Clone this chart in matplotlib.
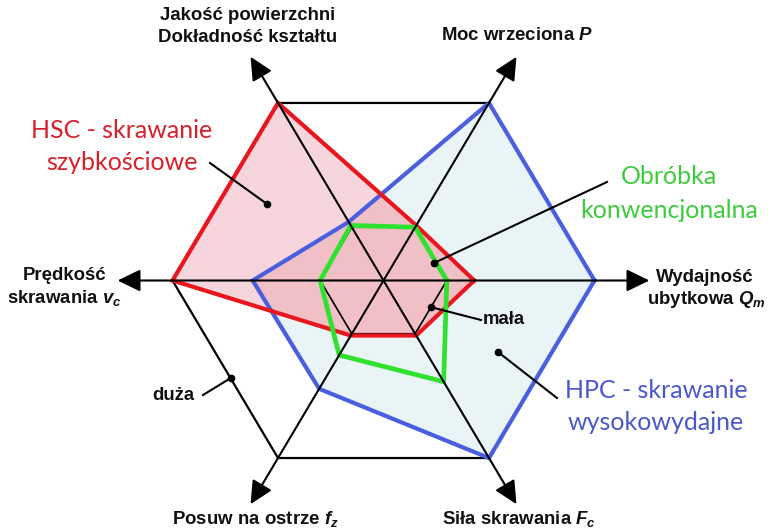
import numpy as np
import matplotlib
matplotlib.use("Agg")
import matplotlib.pyplot as plt
from matplotlib.patches import Polygon

plt.rcParams['mathtext.fontset'] = 'custom'
plt.rcParams['mathtext.it'] = 'Liberation Sans:italic:bold'
plt.rcParams['mathtext.rm'] = 'Liberation Sans:bold'
plt.rcParams['mathtext.bf'] = 'Liberation Sans:bold'

# ---------------- data ----------------
axis_angles_deg = [0, 60, 120, 180, 240, 300]
axis_names = ["Wydajność ubytkowa Qm", "Moc wrzeciona P",
              "Jakość powierzchni / Dokładność kształtu",
              "Prędkość skrawania vc", "Posuw na ostrze fz", "Siła skrawania Fc"]
hsc_values = [0.43, 0.31, 1.00, 1.00, 0.31, 0.31]    # HSC - skrawanie szybkościowe
hpc_values = [1.00, 1.00, 0.33, 0.62, 0.61, 1.00]    # HPC - skrawanie wysokowydajne
conv_values = [0.30, 0.30, 0.31, 0.30, 0.42, 0.57]   # Obróbka konwencjonalna
scale_levels = [0.30, 1.00]                          # mała, duża
scale_names = ["mała", "duża"]
arrow_length = 1.26

# ---------------- geometry ----------------
W, H = 768, 532
cx, cy = 383.5, 280.5      # centre in pixels
sx, sy = 211.0, 205.0      # pixels per unit

def px(x, y):
    return ((x - cx) / sx, (cy - y) / sy)

ang = np.deg2rad(axis_angles_deg)

def poly(vals):
    v = np.asarray(vals, dtype=float)
    x = v * np.cos(ang)
    y = v * np.sin(ang)
    return np.append(x, x[0]), np.append(y, y[0])

fig = plt.figure(figsize=(W / 100, H / 100), dpi=100)
ax = fig.add_axes([0, 0, 1, 1])
ax.set_xlim(-cx / sx, (W - cx) / sx)
ax.set_ylim(-(H - cy) / sy, cy / sy)
ax.axis('off')

RED = '#e8161e'
BLUE = '#4a5ee0'
GREEN = '#2fe22f'

# fills
bx, by = poly(hpc_values)
rx, ry = poly(hsc_values)
blue_patch = Polygon(np.column_stack([bx, by]), closed=True, facecolor='#e9f4f7',
                     edgecolor='none', zorder=1)
ax.add_patch(blue_patch)
ax.add_patch(Polygon(np.column_stack([rx, ry]), closed=True, facecolor='#f7d5dd',
                     edgecolor='none', zorder=2))
overlap = Polygon(np.column_stack([rx, ry]), closed=True, facecolor='#f0c0c6',
                  edgecolor='none', zorder=2.5)
ax.add_patch(overlap)
overlap.set_clip_path(blue_patch)

# scale hexagons
for lvl, lw in zip(scale_levels, [1.2, 1.6]):
    hx, hy = poly([lvl] * 6)
    ax.plot(hx, hy, color='black', lw=lw, zorder=3)

# series outlines
ax.plot(bx, by, color=BLUE, lw=3.0, zorder=4, solid_joinstyle='miter')
ax.plot(rx, ry, color=RED, lw=3.0, zorder=5, solid_joinstyle='miter')
gx, gy = poly(conv_values)
ax.plot(gx, gy, color=GREEN, lw=3.4, zorder=6, solid_joinstyle='miter')

# axes with arrows
for a in ang:
    ax.annotate('', xy=(arrow_length * np.cos(a), arrow_length * np.sin(a)), xytext=(0, 0),
                arrowprops=dict(arrowstyle='-|>,head_length=0.7,head_width=0.34',
                                color='black', lw=1.5, mutation_scale=20,
                                shrinkA=0, shrinkB=0), zorder=7)

# axis labels
lab = dict(fontsize=13.4, fontweight='bold', family='Liberation Sans',
           ha='center', va='center', color='#111111', zorder=8)
ax.text(*px(247.5, 16), "Jakość powierzchni", **lab)
ax.text(*px(247.5, 38), "Dokładność kształtu", **lab)
ax.text(*px(517, 36), r"Moc wrzeciona $\mathit{P}$", **lab)
ax.text(*px(64.5, 275), "Prędkość", **lab)
ax.text(*px(64.5, 298), r"skrawania $\mathit{v}_\mathit{c}$", **lab)
ax.text(*px(705, 278), "Wydajność", **lab)
ax.text(*px(706, 300), r"ubytkowa $\mathit{Q}_\mathit{m}$", **lab)
ax.text(*px(255, 519), r"Posuw na ostrze $\mathit{f}_\mathit{z}$", **lab)
ax.text(*px(519, 519), r"Siła skrawania $\mathit{F}_\mathit{c}$", **lab)

# scale markers (mała / duża)
small_pt = np.array([scale_levels[0] * (np.cos(ang[0]) + np.cos(ang[5])) / 2,
                     scale_levels[0] * (np.sin(ang[0]) + np.sin(ang[5])) / 2])
f = 0.55
big_pt = np.array([scale_levels[1] * ((1 - f) * np.cos(ang[3]) + f * np.cos(ang[4])),
                   scale_levels[1] * ((1 - f) * np.sin(ang[3]) + f * np.sin(ang[4]))])

def leader(p_from, p_to):
    ax.plot([p_from[0], p_to[0]], [p_from[1], p_to[1]], color='black', lw=1.5, zorder=8)
    ax.plot([p_to[0]], [p_to[1]], 'o', color='black', ms=4.5, zorder=9)

leader(px(481, 320), small_pt)
ax.text(*px(483, 320), scale_names[0], fontsize=13.4, fontweight='bold',
        family='Liberation Sans', ha='left', va='center', color='#111111', zorder=8)
leader(px(203, 395), big_pt)
ax.text(*px(194, 396), scale_names[1], fontsize=13.4, fontweight='bold',
        family='Liberation Sans', ha='right', va='center', color='#111111', zorder=8)

# series annotations
ann = dict(fontsize=18, family='Lato', ha='center', va='center', zorder=8)
leader(px(210, 163), px(267, 204))
ax.text(*px(122, 131), "HSC - skrawanie", color='#d8202a', **ann)
ax.text(*px(122, 162), "szybkościowe", color='#d8202a', **ann)

leader(px(607, 182), px(434, 263))
ax.text(*px(669, 177), "Obróbka", color='#3ccc3c', **ann)
ax.text(*px(669, 210), "konwencjonalna", color='#3ccc3c', **ann)

leader(px(557, 398), px(498, 352))
ax.text(*px(656, 390), "HPC - skrawanie", color='#4a58cc', **ann)
ax.text(*px(656, 423), "wysokowydajne", color='#4a58cc', **ann)

fig.savefig('out.png', dpi=100)
